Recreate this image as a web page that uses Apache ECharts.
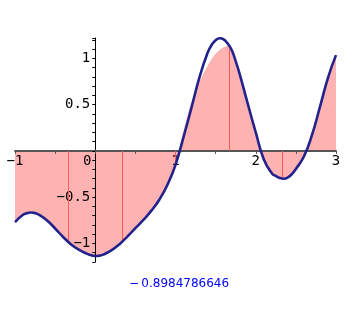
<!DOCTYPE html>
<html>
<head>
<meta charset="utf-8">
<script src="https://cdn.jsdelivr.net/npm/echarts@6/dist/echarts.min.js"></script>
<style>html,body{margin:0;padding:0;background:#fff;}#c{width:359px;height:322px;}</style>
</head>
<body>
<div id="c"></div>
<script>
// Curve f(x)
var curveX = [-1, -0.9, -0.85, -0.8, -0.75, -0.7, -0.6, -0.5, -0.4, -0.3, -0.2, -0.1, -0.05, 0, 0.05, 0.1, 0.2, 0.3, 0.4, 0.5, 0.6, 0.7, 0.8, 0.9, 1.0, 1.1, 1.2, 1.3, 1.4, 1.45, 1.5, 1.55, 1.6, 1.65, 1.7, 1.75, 1.8, 1.9, 2.0, 2.1, 2.2, 2.25, 2.3, 2.35, 2.4, 2.45, 2.5, 2.6, 2.7, 2.8, 2.9, 3.0];
var curveY = [-0.768, -0.690, -0.672, -0.666, -0.672, -0.690, -0.752, -0.838, -0.930, -1.010, -1.070, -1.112, -1.128, -1.135, -1.131, -1.120, -1.075, -1.010, -0.925, -0.835, -0.745, -0.645, -0.525, -0.365, -0.15, 0.15, 0.47, 0.80, 1.06, 1.145, 1.195, 1.218, 1.205, 1.16, 1.09, 0.97, 0.83, 0.51, 0.20, -0.09, -0.24, -0.27, -0.292, -0.30, -0.285, -0.25, -0.195, -0.06, 0.17, 0.475, 0.79, 1.035];
// Approximation (shaded area) top boundary
var shadeX = [-1, -0.9, -0.85, -0.8, -0.75, -0.7, -0.6, -0.5, -0.4, -0.3, -0.2, -0.1, -0.05, 0, 0.05, 0.1, 0.2, 0.3, 0.4, 0.5, 0.6, 0.7, 0.8, 0.9, 1.0, 1.1, 1.2, 1.3, 1.4, 1.5, 1.6, 1.667, 1.7, 1.8, 1.9, 2.0, 2.1, 2.2, 2.25, 2.3, 2.35, 2.4, 2.45, 2.5, 2.6, 2.7, 2.8, 2.9, 3.0];
var shadeY = [-0.768, -0.690, -0.672, -0.666, -0.672, -0.690, -0.752, -0.838, -0.930, -1.010, -1.070, -1.112, -1.128, -1.135, -1.131, -1.120, -1.075, -1.010, -0.925, -0.835, -0.745, -0.645, -0.525, -0.365, -0.15, 0.22, 0.53, 0.75, 0.92, 1.05, 1.12, 1.14, 1.06, 0.79, 0.47, 0.16, -0.12, -0.26, -0.28, -0.295, -0.30, -0.285, -0.25, -0.195, -0.06, 0.17, 0.475, 0.79, 1.035];
// Partition lines
var partX = [-1/3, 1/3, 1, 5/3, 7/3];
var partY = [-0.99, -0.985, -0.15, 1.14, -0.30];
// Axis ranges and tick labels
var xMin = -1, xMax = 3, yMin = -1.2, yMax = 1.22;
var xTickLabels = {"-1": "−1", "0": "0", "1": "1", "2": "2", "3": "3"};
var yTickLabels = {"1": "1", "0.5": "0.5", "-0.5": "−0.5", "-1": "−1"};
var resultText = "−\u20090.8984786646";

var W = 359, H = 322, gl = 15, gr = 23, gt = 38, gb = 60;
var gridW = W - gl - gr, gridH = H - gt - gb;
var chart = echarts.init(document.getElementById('c'), null, {renderer: 'canvas'});
function pairs(xs, ys) { return xs.map(function (x, i) { return [x, ys[i]]; }); }
var mono = 'DejaVu Sans Mono';
chart.setOption({
  animation: false,
  grid: {left: gl, right: gr, top: gt, bottom: gb, containLabel: false, outerBoundsMode: 'none'},
  xAxis: {
    type: 'value', min: xMin, max: xMax, interval: 1, z: 3, position: 'bottom',
    offset: -(0 - yMin) / (yMax - yMin) * gridH,
    splitLine: {show: false},
    axisLine: {show: true, onZero: false, lineStyle: {color: '#555', width: 2}},
    axisTick: {show: true, length: 3, lineStyle: {color: '#555'}},
    minorTick: {show: true, splitNumber: 2, length: 3, lineStyle: {color: '#555'}},
    axisLabel: {
      margin: 3, color: '#000', fontFamily: mono, fontSize: 14, showMinLabel: true, showMaxLabel: true,
      formatter: function (v) {
        var k = String(Math.round(v));
        if (k === '0') return '{z|0}';
        return xTickLabels[k] || '';
      },
      rich: {z: {padding: [0, 16, 0, 0], fontFamily: mono, fontSize: 14, color: '#000'}}
    }
  },
  yAxis: {
    type: 'value', min: yMin, max: yMax, interval: 0.1, z: 3, position: 'left',
    offset: -(0 - xMin) / (xMax - xMin) * gridW,
    splitLine: {show: false},
    axisLine: {show: true, onZero: false, lineStyle: {color: '#000', width: 1}},
    axisTick: {show: true, length: 3, lineStyle: {color: '#000'}},
    axisLabel: {
      margin: 5, color: '#000', fontFamily: mono, fontSize: 14,
      formatter: function (v) {
        var k = String(Math.round(v * 10) / 10);
        return yTickLabels[k] || '';
      }
    }
  },
  series: [
    {
      type: 'line', z: 1, data: pairs(shadeX, shadeY), smooth: 0.3, showSymbol: false,
      lineStyle: {width: 0}, areaStyle: {color: '#ffb2b2', opacity: 1, origin: 0},
      markLine: {
        silent: true, symbol: ['none', 'none'], label: {show: false},
        lineStyle: {color: '#ff5c5c', width: 1, type: 'solid'},
        data: partX.map(function (x, i) { return [{coord: [x, 0]}, {coord: [x, partY[i]]}]; })
      }
    },
    {
      type: 'line', z: 5, data: pairs(curveX, curveY), smooth: 0.5, showSymbol: false,
      lineStyle: {color: '#22228c', width: 2.6}
    }
  ],
  graphic: [{
    type: 'text', x: 179, y: 284, z: 10,
    style: {text: resultText, fill: '#0000ff', font: '12px "DejaVu Sans"', align: 'center', verticalAlign: 'middle'}
  }]
});
</script>
</body>
</html>
